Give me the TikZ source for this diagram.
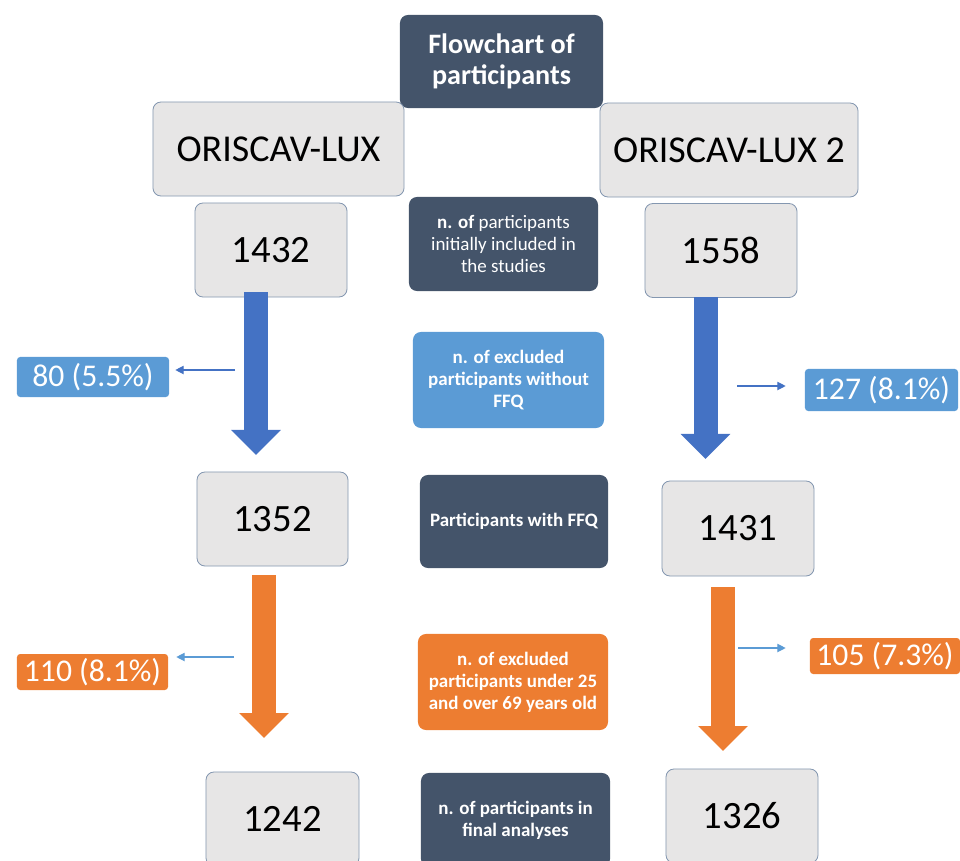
\documentclass[tikz,border=0pt]{standalone}
\usepackage{fontspec}
\setmainfont{Carlito}
\usetikzlibrary{arrows.meta}
\definecolor{slate}{HTML}{44546A}
\definecolor{boxgrey}{HTML}{E7E6E6}
\definecolor{boxline}{HTML}{8497B0}
\definecolor{skyblue}{HTML}{5B9BD5}
\definecolor{deepblue}{HTML}{4472C4}
\definecolor{orange}{HTML}{ED7D31}
\tikzset{
  every picture/.style={font=\normalfont}}
\begin{document}
\begin{tikzpicture}[
    x=0.025cm, y=-0.025cm,
    count/.style={
      draw=boxline, fill=boxgrey, line width=0.6pt,
      rounded corners=0.2cm, inner sep=0pt,
      minimum width=3.8cm, minimum height=2.35cm,
      font=\fontsize{27.5}{33}\selectfont},
    study/.style={count, font=\fontsize{27}{32}\selectfont},
    info/.style={
      fill=slate, text=white, align=center,
      rounded corners=0.2cm, inner sep=0pt,
      minimum width=4.75cm, minimum height=2.35cm,
      font=\fontsize{13.5}{15.6}\selectfont\bfseries},
    tag/.style={
      text=white, rounded corners=0.08cm, inner sep=0pt,
      minimum width=3.8cm, minimum height=1cm,
      font=\fontsize{22.5}{27}\selectfont},
    flow/.style={line width=0.6cm, -{Triangle[width=1.2cm,length=0.625cm]}},
    drop/.style={line width=0.8pt, -{Triangle[width=6pt,length=6pt]}}]

    \useasboundingbox (0,0) rectangle (960,861);
    \clip (0,0) rectangle (960,861);

    \node[info, minimum width=5.075cm, minimum height=2.325cm,
          font=\fontsize{20}{22.5}\selectfont\bfseries] (title) at (501.5,61.5)
      {Flowchart of\\participants};

    \node[study, minimum width=6.275cm] (lux) at (278.5,149) {ORISCAV-LUX};
    \node[study, minimum width=6.45cm] (luxtwo) at (729,150) {ORISCAV-LUX 2};

    \node[count] (n1432) at (271,250) {1432};
    \node[count] (n1558) at (721,250.5) {1558};
    \node[info, minimum width=4.725cm] (initial) at (503.5,244)
      {n. of \mdseries participants\\ \mdseries initially included in\\ \mdseries the studies};

    \node[info, fill=skyblue, minimum width=4.775cm, minimum height=2.4cm] (noffq) at (508.5,380)
      {n. of excluded\\participants without\\FFQ};
    \node[tag, fill=skyblue] (l80) at (93,377) {80 (5.5\%)};
    \node[tag, fill=skyblue, minimum width=3.825cm, minimum height=1.05cm] (l127) at (881.5,390) {127 (8.1\%)};

    \node[count, minimum width=3.775cm] (n1352) at (272.5,519) {1352};
    \node[info, minimum width=4.7cm, minimum height=2.325cm] (withffq) at (514,521.5)
      {Participants with FFQ};
    \node[count, minimum height=2.375cm] (n1431) at (738,528.5) {1431};

    \node[info, fill=orange, minimum height=2.4cm] (age) at (513,682)
      {n. of excluded\\participants under 25\\and over 69 years old};
    \node[tag, fill=orange, minimum width=3.775cm, minimum height=0.9cm] (l110) at (92.5,672) {110 (8.1\%)};
    \node[tag, fill=orange, minimum width=3.75cm, minimum height=0.9cm] (l105) at (885,656) {105 (7.3\%)};

    \node[count, minimum width=3.825cm] (n1242) at (282.5,819) {1242};
    \node[info, minimum width=4.725cm] (final) at (515.5,820)
      {n. of participants in\\final analyses};
    \node[count] (n1326) at (742,816) {1326};

    \coordinate (b1) at (256,292);   \coordinate (b2) at (256,455);
    \coordinate (b3) at (705.5,297); \coordinate (b4) at (705.5,459);
    \coordinate (o1) at (264,575);   \coordinate (o2) at (264,738);
    \coordinate (o3) at (723,587);   \coordinate (o4) at (723,751);

    \draw[flow, deepblue] (b1) -- (b2);
    \draw[flow, deepblue] (b3) -- (b4);
    \draw[flow, orange] (o1) -- (o2);
    \draw[flow, orange] (o3) -- (o4);

    \coordinate (s80) at (235,370);
    \coordinate (s127) at (737,386);
    \coordinate (s110) at (234,657);
    \coordinate (s105) at (738,648);

    \draw[drop, deepblue, shorten >=0.15cm] (s80) -- (s80 -| l80.east);
    \draw[drop, deepblue, shorten >=0.475cm] (s127) -- (s127 -| l127.west);
    \draw[drop, skyblue, shorten >=0.2cm] (s110) -- (s110 -| l110.east);
    \draw[drop, skyblue, shorten >=0.6cm] (s105) -- (s105 -| l105.west);
\end{tikzpicture}
\end{document}
